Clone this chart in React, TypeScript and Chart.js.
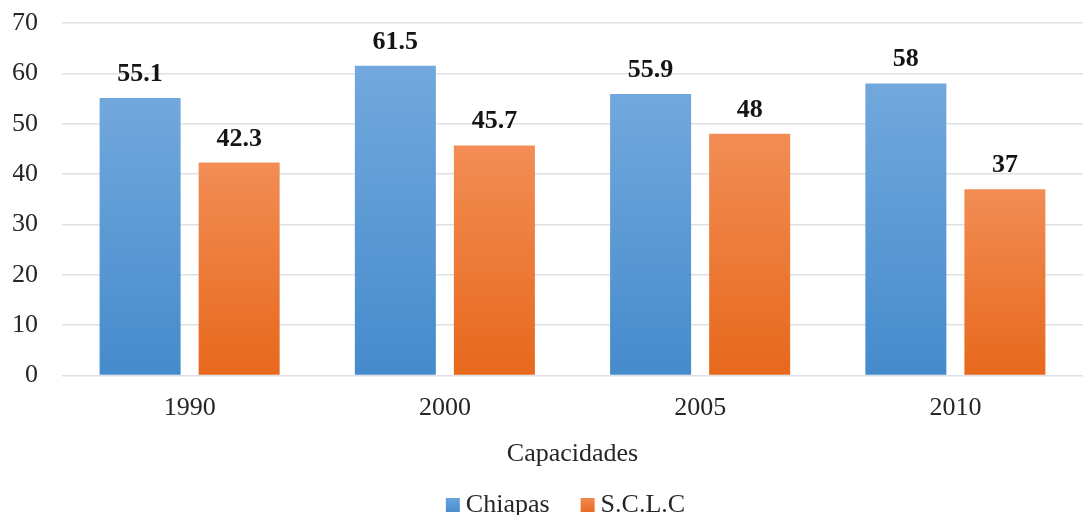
import React, { useEffect, useRef } from "react";
import { Chart, registerables } from "chart.js";

Chart.register(...registerables);

const categories = ["1990", "2000", "2005", "2010"];
const chiapasValues = [55.1, 61.5, 55.9, 58];
const sclcValues = [42.3, 45.7, 48, 37];
const seriesNames = ["Chiapas", "S.C.L.C"];
const seriesColors = ["#5b9bd5", "#ed7d31"];
const xTitle = "Capacidades";

const FONT = "'Liberation Serif', 'Times New Roman', serif";
const FS = 26;

function gradientFill(top: string, bottom: string, solid: string) {
  return (ctx: any) => {
    const chart = ctx.chart;
    const y = chart.scales && chart.scales.y;
    if (ctx.type !== "data" || !y || typeof ctx.raw !== "number") return solid;
    const yTop = y.getPixelForValue(ctx.raw);
    const yBot = y.getPixelForValue(0);
    if (!isFinite(yTop) || !isFinite(yBot) || yTop === yBot) return solid;
    const g = chart.ctx.createLinearGradient(0, yTop, 0, yBot);
    g.addColorStop(0, top);
    g.addColorStop(1, bottom);
    return g;
  };
}

const dataLabelPlugin = {
  id: "dataLabels",
  afterDatasetsDraw(chart: any) {
    const c = chart.ctx;
    c.save();
    c.font = `bold ${FS}px ${FONT}`;
    c.fillStyle = "#141414";
    c.textAlign = "center";
    c.textBaseline = "alphabetic";
    chart.data.datasets.forEach((ds: any, i: number) => {
      const meta = chart.getDatasetMeta(i);
      meta.data.forEach((bar: any, j: number) => {
        c.fillText(String(ds.data[j]), bar.x, bar.y - 17);
      });
    });
    c.restore();
  },
};

const legendPlugin = {
  id: "bottomLegend",
  afterDraw(chart: any) {
    const c = chart.ctx;
    const area = chart.chartArea;
    c.save();
    c.font = `${FS}px ${FONT}`;
    c.textBaseline = "alphabetic";
    c.textAlign = "left";
    const box = 14;
    const gapText = 6;
    const gapItem = 31;
    const widths = seriesNames.map((n) => c.measureText(n).width);
    const total = widths.reduce((a, w) => a + box + gapText + w, 0) + gapItem * (seriesNames.length - 1);
    let x = (area.left + area.right) / 2 - 7 - total / 2;
    const baseline = chart.height - 3;
    seriesNames.forEach((n, i) => {
      const g = c.createLinearGradient(0, baseline - box, 0, baseline);
      g.addColorStop(0, i === 0 ? "#6aa3db" : "#f08a4f");
      g.addColorStop(1, i === 0 ? "#4a8ccd" : "#e86c22");
      c.fillStyle = g;
      c.fillRect(x, baseline - box, box, box);
      x += box + gapText;
      c.fillStyle = "#262626";
      c.fillText(n, x, baseline);
      x += widths[i] + gapItem;
    });
    c.restore();
  },
};

export default function App() {
  const ref = useRef<HTMLCanvasElement>(null);
  useEffect(() => {
    if (!ref.current) return;
    const chart = new Chart(ref.current, {
      type: "bar",
      data: {
        labels: categories,
        datasets: [
          {
            label: seriesNames[0],
            data: chiapasValues,
            backgroundColor: gradientFill("#72a8dd", "#458bcc", seriesColors[0]),
            categoryPercentage: 0.776,
            barPercentage: 0.818,
          },
          {
            label: seriesNames[1],
            data: sclcValues,
            backgroundColor: gradientFill("#f28d55", "#e7681c", seriesColors[1]),
            categoryPercentage: 0.776,
            barPercentage: 0.818,
          },
        ],
      },
      options: {
        animation: false,
        responsive: false,
        maintainAspectRatio: false,
        layout: { padding: { left: 13, right: 0, top: 23, bottom: 45 } },
        scales: {
          x: {
            grid: { display: false },
            border: { display: false },
            ticks: { color: "#262626", font: { family: FONT, size: FS }, padding: 9 },
            title: {
              display: true,
              text: xTitle,
              color: "#262626",
              font: { family: FONT, size: FS },
              padding: { top: 6, bottom: 0 },
            },
          },
          y: {
            min: 0,
            max: 70,
            ticks: { stepSize: 10, color: "#262626", font: { family: FONT, size: FS }, padding: 24 },
            grid: { color: "#dde1e7", lineWidth: 1.5, drawTicks: false },
            border: { display: false },
            afterFit: (scale: any) => {
              scale.width = 49;
              scale.paddingTop = 0;
              scale.paddingBottom = 0;
            },
          },
        },
        plugins: {
          legend: { display: false },
          tooltip: { enabled: false },
        },
      },
      plugins: [dataLabelPlugin, legendPlugin],
    });
    return () => chart.destroy();
  }, []);
  return (
    <div style={{ position: "fixed", left: 0, top: 0, width: 1083, height: 515, background: "#fff" }}>
      <canvas ref={ref} width={1083} height={515} />
    </div>
  );
}
